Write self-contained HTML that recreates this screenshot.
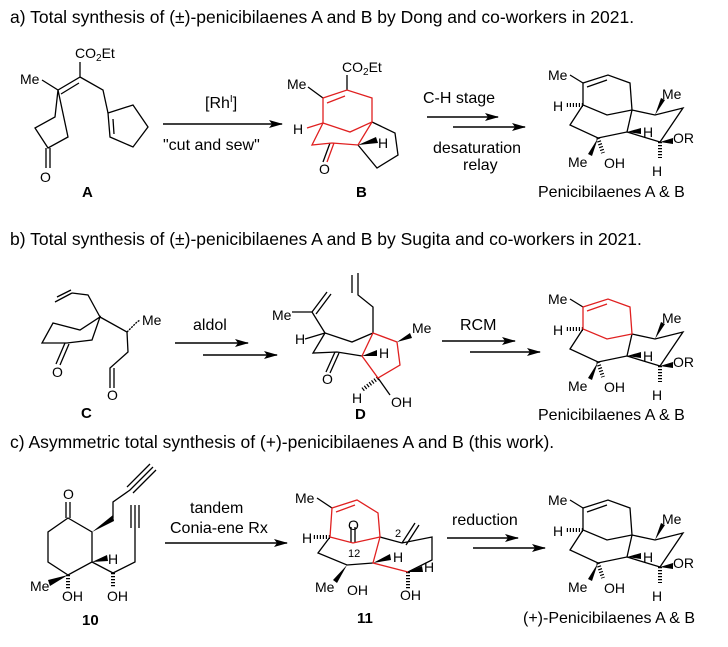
<!DOCTYPE html>
<html><head><meta charset="utf-8"><style>
body{margin:0;background:#fff}
svg{display:block;font-family:"Liberation Sans",sans-serif}
text{fill:#000}
.t{font-size:17.5px}
.m{font-size:16px}
.s{font-size:14px}
.b{font-size:15px;font-weight:bold}
</style></head><body>
<svg width="728" height="647" viewBox="0 0 728 647" xmlns="http://www.w3.org/2000/svg">
<defs>
<marker id="ar" markerWidth="14" markerHeight="8" refX="13" refY="4" orient="auto" markerUnits="userSpaceOnUse"><path d="M0,0 L14,4 L0,8 L3,4 z" fill="#000"/></marker>
<g id="pen">
<g fill="none" stroke="#000" stroke-width="1.3">
<path d="M570,500 L583,508 M583,530 L570,550 L598,563 L627,557 L632,535 L655,540 L683,533 L660,567 L627,557"/>
<path d="M598,563 L603,578 M660,567 L660,583" stroke-dasharray="1.2,1.8" stroke-width="4"/>
<path d="M583,530 L566,530" stroke-dasharray="1.2,1.8" stroke-width="4"/>
</g>
<polygon points="655,540 661,523 665,525" fill="#000"/>
<polygon points="627,557 641,553 641,559" fill="#000"/>
<polygon points="660,567 673,563 673,569" fill="#000"/>
<polygon points="598,563 588,579 592,581" fill="#000"/>
</g>
<g id="penring" fill="none" stroke-width="1.3">
<path d="M583,508 L608,500 L630,508 L632,535 L607,540 L583,530 Z M587,512 L607,505"/>
</g>
</defs>

<text class="t" x="10" y="23">a) Total synthesis of (±)-penicibilaenes A and B by Dong and co-workers in 2021.</text>
<text class="t" x="10" y="245">b) Total synthesis of (±)-penicibilaenes A and B by Sugita and co-workers in 2021.</text>
<text class="t" x="10" y="448">c) Asymmetric total synthesis of (+)-penicibilaenes A and B (this work).</text>

<!-- A -->
<g fill="none" stroke="#000" stroke-width="1.3">
<path d="M80,62 L80,77 L58,90 L42,80 M80,77 L103,90 L108,113 M61,94 L79,83"/>
<path d="M58,90 L55,117 L35,128 L48,148 L68,137 Z M46,148 L46,168 M50,148 L50,168"/>
<path d="M108,113 L133,105 L148,127 L133,147 L110,137 Z M113,119 L114,134"/>
</g>
<text class="s" x="75" y="58">CO<tspan font-size="10" dy="3">2</tspan><tspan dy="-3">Et</tspan></text>
<text class="s" x="20" y="84">Me</text>
<text class="s" x="40" y="182">O</text>
<text class="b" x="82" y="197">A</text>

<line x1="163" y1="124" x2="282" y2="124" stroke="#000" stroke-width="1.4" marker-end="url(#ar)"/>
<text class="m" x="205" y="108">[Rh<tspan font-size="10" dy="-6">I</tspan><tspan dy="6">]</tspan></text>
<text class="m" x="163" y="150">"cut and sew"</text>

<!-- B -->
<g fill="none" stroke="#000" stroke-width="1.3">
<path d="M347,75 L347,90 M308,87 L323,98"/>
<path d="M372,122 L395,133 L398,155 L377,168 L358,145"/>
<path d="M330,143 L323,162"/>
</g>
<polygon points="358,145 376,137 378,143" fill="#000"/>
<g fill="none" stroke="#e02020" stroke-width="1.3">
<path d="M323,98 L347,90 L372,98 L372,122 L350,132 L323,123 Z M327,103 L345,96"/>
<path d="M323,123 L312,145 L332,143 L358,145 L372,122 M334,143 L327,162"/>
<path d="M323,123 L307,128"/>
</g>
<text class="s" x="342" y="72">CO<tspan font-size="10" dy="3">2</tspan><tspan dy="-3">Et</tspan></text>
<text class="s" x="287" y="89">Me</text>
<text class="s" x="293" y="134">H</text>
<text class="s" x="378" y="148">H</text>
<text class="s" x="319" y="174">O</text>
<text class="b" x="356" y="197">B</text>

<line x1="427" y1="117" x2="498" y2="117" stroke="#000" stroke-width="1.4" marker-end="url(#ar)"/>
<line x1="453" y1="127" x2="525" y2="127" stroke="#000" stroke-width="1.4" marker-end="url(#ar)"/>
<text class="m" x="423" y="103">C-H stage</text>
<text class="m" x="433" y="153">desaturation</text>
<text class="m" x="463" y="170">relay</text>

<!-- Pen a -->
<use href="#pen" transform="translate(0,-425)"/>
<use href="#penring" transform="translate(0,-425)" stroke="#000"/>
<text class="s" x="548" y="80">Me</text><text class="s" x="553" y="111">H</text>
<text class="s" x="662" y="99">Me</text><text class="s" x="643" y="137">H</text>
<text class="s" x="673" y="143">OR</text><text class="s" x="568" y="167">Me</text>
<text class="s" x="604" y="168">OH</text><text class="s" x="652" y="176">H</text>
<text class="m" x="538" y="197">Penicibilaenes A &amp; B</text>

<!-- C -->
<g fill="none" stroke="#000" stroke-width="1.3">
<path d="M55,302 L72,293 M57,297 L71,290 M72,293 L88,295 L100,317"/>
<path d="M53,323 L80,330 L100,317 L92,340 L67,343 L42,343 Z"/>
<path d="M65,343 L56,364 M69,344 L60,365"/>
<path d="M100,317 L127,332 L128,352 L110,368 L110,388 M114,368 L114,388"/>
<path d="M127,332 L130,329 L132,327 L135,324 L137,322 L140,320" stroke-dasharray="2,1"/>
</g>
<text class="s" x="142" y="325">Me</text>
<text class="s" x="52" y="377">O</text>
<text class="s" x="107" y="400">O</text>
<text class="b" x="81" y="418">C</text>

<line x1="175" y1="343" x2="248" y2="343" stroke="#000" stroke-width="1.4" marker-end="url(#ar)"/>
<line x1="203" y1="355" x2="277" y2="355" stroke="#000" stroke-width="1.4" marker-end="url(#ar)"/>
<text class="m" x="193" y="330">aldol</text>

<!-- D -->
<g fill="none" stroke="#000" stroke-width="1.3">
<path d="M292,312 L312,312 L327,292 M316,314 L331,294"/>
<path d="M312,312 L325,333 L352,342 L373,333 M325,333 L313,353 L337,352 L362,356"/>
<path d="M305,339 L325,333"/>
<path d="M335,352 L326,372 M339,353 L330,373"/>
<path d="M373,333 L373,307 L358,295 L358,273 M352,293 L352,275"/>
<path d="M378,378 L390,395"/>
<path d="M378,378 L362,390" stroke-dasharray="1.2,1.8" stroke-width="4"/>
</g>
<polygon points="397,342 410,333 412,338" fill="#000"/>
<polygon points="362,356 377,350 377,356" fill="#000"/>
<path d="M373,333 L397,342 L400,365 L378,378 L362,356 Z" fill="none" stroke="#e02020" stroke-width="1.3"/>
<text class="s" x="272" y="320">Me</text>
<text class="s" x="295" y="344">H</text>
<text class="s" x="322" y="384">O</text>
<text class="s" x="379" y="358">H</text>
<text class="s" x="412" y="333">Me</text>
<text class="s" x="352" y="403">H</text>
<text class="s" x="391" y="407">OH</text>
<text class="b" x="355" y="419">D</text>

<line x1="442" y1="341" x2="515" y2="341" stroke="#000" stroke-width="1.4" marker-end="url(#ar)"/>
<line x1="470" y1="352" x2="540" y2="352" stroke="#000" stroke-width="1.4" marker-end="url(#ar)"/>
<text class="m" x="460" y="330">RCM</text>

<!-- Pen b -->
<use href="#pen" transform="translate(0,-201)"/>
<use href="#penring" transform="translate(0,-201)" stroke="#e02020"/>
<text class="s" x="548" y="304">Me</text><text class="s" x="553" y="335">H</text>
<text class="s" x="662" y="323">Me</text><text class="s" x="643" y="361">H</text>
<text class="s" x="673" y="367">OR</text><text class="s" x="568" y="391">Me</text>
<text class="s" x="604" y="392">OH</text><text class="s" x="652" y="400">H</text>
<text class="m" x="538" y="420">Penicibilaenes A &amp; B</text>

<!-- 10 -->
<g fill="none" stroke="#000" stroke-width="1.3">
<path d="M68,518 L92,532 L92,562 L68,575 L48,562 L48,532 Z"/>
<path d="M66,518 L66,502 M70,518 L70,502"/>
<path d="M113,518 L113,502 L130,490 L153,467 M127,487 L150,464 M133,493 L156,470"/>
<path d="M92,562 L113,573 L135,562 L135,528 M131,528 L131,505 M135,528 L135,505 M139,528 L139,505"/>
<path d="M68,575 L68,590 M113,573 L113,588" stroke-dasharray="1.2,1.8" stroke-width="4"/>
</g>
<polygon points="92,532 113,515 114,521" fill="#000"/>
<polygon points="92,562 107,555 108,561" fill="#000"/>
<polygon points="68,575 48,580 50,586" fill="#000"/>
<text class="s" x="63" y="499">O</text>
<text class="s" x="108" y="564">H</text>
<text class="s" x="30" y="591">Me</text>
<text class="s" x="62" y="601">OH</text>
<text class="s" x="107" y="601">OH</text>
<text class="b" x="82" y="625">10</text>

<line x1="165" y1="543" x2="287" y2="543" stroke="#000" stroke-width="1.4" marker-end="url(#ar)"/>
<text class="m" x="190" y="513">tandem</text>
<text class="m" x="170" y="533">Conia-ene Rx</text>

<!-- 11 -->
<g fill="none" stroke="#000" stroke-width="1.3">
<path d="M317,498 L332,508"/>
<path d="M330,537 L318,553 L347,565 L373,563"/>
<path d="M351,543 L351,527 M355,543 L355,527"/>
<path d="M380,537 L402,543 L432,537 L432,560 L408,572 M402,543 L415,523 M406,545 L419,525"/>
<path d="M330,537 L313,537 M408,572 L408,590" stroke-dasharray="1.2,1.8" stroke-width="4"/>
</g>
<polygon points="347,565 333,580 337,583" fill="#000"/>
<polygon points="373,563 390,554 391,560" fill="#000"/>
<polygon points="408,572 422,566 423,572" fill="#000"/>
<g fill="none" stroke="#e02020" stroke-width="1.3">
<path d="M332,508 L357,500 L378,513 L380,537 L353,543 L330,537 Z M336,512 L355,505"/>
<path d="M380,537 L373,563 L408,572"/>
</g>
<text class="s" x="295" y="503">Me</text>
<text class="s" x="302" y="543">H</text>
<text class="s" x="348" y="530">O</text>
<text x="348" y="557" font-size="11">12</text>
<text x="395" y="537" font-size="11">2</text>
<text class="s" x="315" y="592">Me</text>
<text class="s" x="347" y="595">OH</text>
<text class="s" x="393" y="562">H</text>
<text class="s" x="424" y="572">H</text>
<text class="s" x="400" y="600">OH</text>
<text class="b" x="357" y="623">11</text>

<line x1="447" y1="538" x2="518" y2="538" stroke="#000" stroke-width="1.4" marker-end="url(#ar)"/>
<line x1="473" y1="548" x2="545" y2="548" stroke="#000" stroke-width="1.4" marker-end="url(#ar)"/>
<text class="m" x="452" y="525">reduction</text>

<!-- Pen c -->
<use href="#pen"/>
<use href="#penring" stroke="#000"/>
<text class="s" x="548" y="505">Me</text><text class="s" x="553" y="536">H</text>
<text class="s" x="662" y="524">Me</text><text class="s" x="643" y="562">H</text>
<text class="s" x="673" y="568">OR</text><text class="s" x="568" y="592">Me</text>
<text class="s" x="604" y="593">OH</text><text class="s" x="652" y="601">H</text>
<text class="m" x="523" y="623">(+)-Penicibilaenes A &amp; B</text>
</svg>
</body></html>
